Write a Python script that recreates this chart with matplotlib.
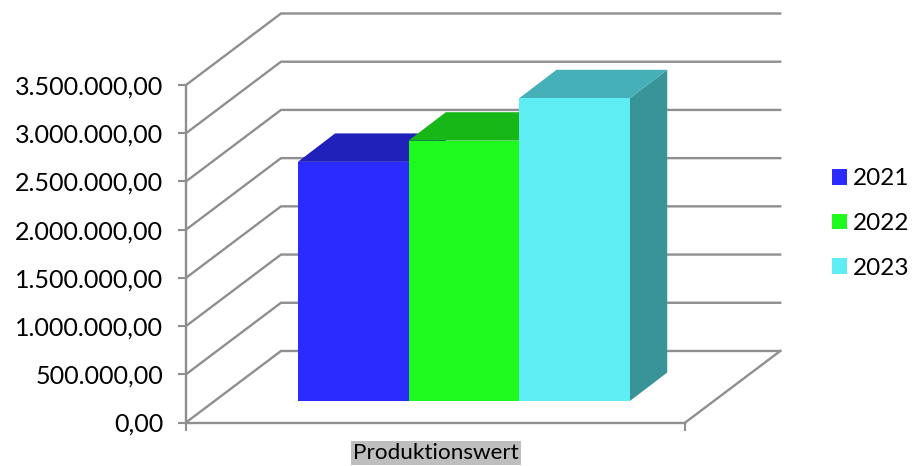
import matplotlib
matplotlib.use("Agg")
import matplotlib.pyplot as plt
from matplotlib.patches import Polygon, Patch

plt.rcParams['font.family'] = ['Lato', 'DejaVu Sans']

# Data
years = ['2021', '2022', '2023']
values = [2480000, 2700000, 3140000]
category = 'Produktionswert'
y_ticks = [0, 500000, 1000000, 1500000, 2000000, 2500000, 3000000, 3500000]

front_colors = ['#2B2BFF', '#1EFA1E', '#5DEDF2']
top_colors = ['#2020BB', '#17B717', '#46B0B8']
side_colors = ['#1F1FA0', '#129012', '#399499']
grid_color = '#8F8F8F'

# Oblique 3D look, x in bar widths, y in value units
floor_width = 4.51
wall_dx = 0.858
wall_dy = 741700
bar_start = 1.01
bar_width = 1.0
bar_dx = 0.337
bar_dy = 295000
bar_base = 223000


def tick_label(v):
    return f'{v:,.2f}'.replace(',', 'X').replace('.', ',').replace('X', '.')


W, H = 915, 466
fig = plt.figure(figsize=(W / 100, H / 100), dpi=100)
ax = fig.add_axes([186 / W, (H - 422.5) / H, (780.5 - 186) / W, (422.5 - 13.5) / H])
ax.set_xlim(0, 594.5 / 110.7)
ax.set_ylim(0, 3500000 + wall_dy)

# Gridlines running along the side wall and the back wall
for v in y_ticks:
    ax.plot([0, wall_dx, floor_width + wall_dx], [v, v + wall_dy, v + wall_dy],
            color=grid_color, lw=1.7, solid_joinstyle='miter', zorder=1, clip_on=False)

# Floor edge on the right
ax.plot([floor_width, floor_width + wall_dx], [0, wall_dy], color=grid_color, lw=1.7, zorder=1, clip_on=False)

# Bars, left to right so each one covers the side of the previous
for i, v in enumerate(values):
    x0 = bar_start + i * bar_width
    x1 = x0 + bar_width
    y0 = bar_base
    y1 = bar_base + v
    z = 2 + i
    ax.add_patch(Polygon([(x1, y0), (x1 + bar_dx, y0 + bar_dy), (x1 + bar_dx, y1 + bar_dy), (x1, y1)],
                         facecolor=side_colors[i], edgecolor='none', zorder=z))
    ax.add_patch(Polygon([(x0, y1), (x0 + bar_dx, y1 + bar_dy), (x1 + bar_dx, y1 + bar_dy), (x1, y1)],
                         facecolor=top_colors[i], edgecolor='none', zorder=z))
    ax.add_patch(Polygon([(x0, y0), (x1, y0), (x1, y1), (x0, y1)],
                         facecolor=front_colors[i], edgecolor='none', zorder=z))

# Axes
for s in ['top', 'right']:
    ax.spines[s].set_visible(False)
for s in ['left', 'bottom']:
    ax.spines[s].set_color(grid_color)
    ax.spines[s].set_linewidth(1.7)
ax.spines['left'].set_bounds(0, 3500000)
ax.spines['bottom'].set_bounds(0, floor_width)
ax.patch.set_visible(False)

ax.set_yticks(y_ticks)
ax.set_yticklabels([tick_label(v) for v in y_ticks])
ax.tick_params(axis='y', length=6, width=1.5, color=grid_color, labelsize=18.1, pad=10.5, labelcolor='black')
ax.set_xticks([0, floor_width])
ax.set_xticklabels(['', ''])
ax.tick_params(axis='x', length=6, width=1.5, color=grid_color)

ax.annotate(category, xy=(floor_width / 2, 0), xytext=(0, -22), textcoords='offset points',
            ha='center', va='center', fontsize=16.2, color='black',
            bbox=dict(facecolor='#BEBEBE', edgecolor='none', pad=1.5), annotation_clip=False)

handles = [Patch(facecolor=c, edgecolor='none') for c in front_colors]
fig.legend(handles, years, loc='center left', bbox_to_anchor=(832 / W, (H - 223.5) / H),
           frameon=False, fontsize=17.5, handlelength=0.6, handleheight=0.6,
           handletextpad=0.25, labelspacing=0.97, borderpad=0, borderaxespad=0)

fig.savefig('out.png', dpi=100)
